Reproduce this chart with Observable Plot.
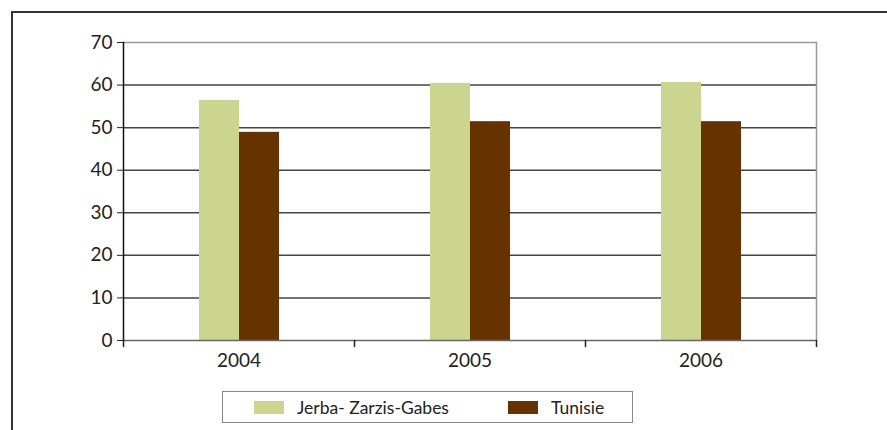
<!DOCTYPE html>
<html>
<head>
<meta charset="utf-8">
<script src="https://cdn.jsdelivr.net/npm/d3@7"></script>
<script src="https://cdn.jsdelivr.net/npm/@observablehq/plot@0.6"></script>
<style>
  html, body { margin: 0; padding: 0; background: #fff; overflow: hidden; }
  #wrap { position: relative; width: 887px; height: 430px; overflow: hidden; font-family: Lato, "Open Sans", sans-serif; }
  #frame { position: absolute; left: 11px; top: 11px; width: 1000px; height: 1000px; border-top: 2px solid #333; border-left: 2px solid #333; }
  #chart { position: absolute; left: 0; top: 0; }
  #legend { position: absolute; left: 222px; top: 391px; width: 411px; height: 32px; border: 1.5px solid #888; box-sizing: border-box; background: #fff; }
  .item { position: absolute; top: 0; height: 100%; display: flex; align-items: center; font-size: 17.5px; color: #222; }
  .sw { width: 30px; height: 13px; margin-right: 13px; }
</style>
</head>
<body>
<div id="wrap">
  <div id="frame"></div>
  <div id="chart"></div>
  <div id="legend"></div>
</div>
<script>
const years = ["2004", "2005", "2006"];
const seriesNames = ["Jerba- Zarzis-Gabes", "Tunisie"];
const jerba = [56.4, 60.4, 60.6];
const tunisie = [48.9, 51.4, 51.4];
const yTicks = [0, 10, 20, 30, 40, 50, 60, 70];
const colors = ["#cbd590", "#663300"];

const data = years.flatMap((y, i) => [
  {year: y, series: seriesNames[0], value: jerba[i]},
  {year: y, series: seriesNames[1], value: tunisie[i]}
]);

const line = {draw(ctx, l) { ctx.moveTo(0, 0); ctx.lineTo(0, -l); }};

const chart = Plot.plot({
  width: 887,
  height: 385,
  marginLeft: 122,
  marginRight: 71,
  marginTop: 42,
  marginBottom: 45,
  style: {fontFamily: "Lato, 'Open Sans', sans-serif", fontSize: "19px", color: "#222", background: "transparent"},
  fx: {domain: years, padding: 0, label: null},
  x: {domain: seriesNames, paddingInner: 0, paddingOuter: 1.85, axis: null},
  y: {domain: [0, 70], label: null},
  color: {domain: seriesNames, range: colors},
  marks: [
    Plot.gridY(yTicks.filter(d => d > 0 && d < 70), {stroke: "#444", strokeOpacity: 1, strokeWidth: 1.5}),
    Plot.gridY([70], {stroke: "#999", strokeOpacity: 1, strokeWidth: 1.5}),
    Plot.barY(data, {fx: "year", x: "series", y: "value", fill: "series"}),
    Plot.gridY([0], {stroke: "#666", strokeOpacity: 1, strokeWidth: 1.5}),
    Plot.frame({anchor: "right", facetAnchor: "right", stroke: "#999", strokeWidth: 1.5}),
    Plot.frame({anchor: "left", facetAnchor: "left", stroke: "#111", strokeWidth: 1.5}),
    Plot.vector([0], {frameAnchor: "bottom-left", length: 6, rotate: 180, anchor: "start", shape: line, stroke: "#222", strokeWidth: 1.5}),
    Plot.vector([0], {frameAnchor: "bottom-right", facetAnchor: "right", length: 6, rotate: 180, anchor: "start", shape: line, stroke: "#222", strokeWidth: 1.5}),
    Plot.axisY(yTicks, {tickSize: 6, tickPadding: 5, label: null, stroke: "#222"}),
    Plot.axisFx({anchor: "bottom", tickSize: 0, tickPadding: 13, label: null})
  ]
});
document.getElementById("chart").appendChild(chart);

const legend = document.getElementById("legend");
const lefts = [31, 285];
seriesNames.forEach((s, i) => {
  const it = document.createElement("div");
  it.className = "item";
  it.style.left = lefts[i] + "px";
  const sw = document.createElement("div");
  sw.className = "sw";
  sw.style.background = colors[i];
  const tx = document.createElement("span");
  tx.textContent = s;
  it.appendChild(sw);
  it.appendChild(tx);
  legend.appendChild(it);
});
</script>
</body>
</html>
